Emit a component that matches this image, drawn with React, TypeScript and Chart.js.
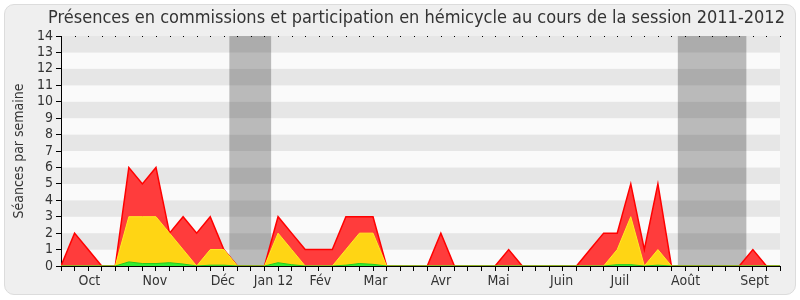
import React, { useEffect, useRef } from "react";
import { Chart, registerables } from "chart.js";

Chart.register(...registerables);

const TITLE = "Présences en commissions et participation en hémicycle au cours de la session 2011-2012";
const Y_TITLE = "Séances par semaine";

// week index 0..53
const weeks = [
  0, 1, 2, 3, 4, 5, 6, 7, 8, 9, 10, 11, 12, 13, 14, 15, 16, 17, 18, 19, 20, 21, 22, 23, 24, 25, 26,
  27, 28, 29, 30, 31, 32, 33, 34, 35, 36, 37, 38, 39, 40, 41, 42, 43, 44, 45, 46, 47, 48, 49, 50, 51,
  52, 53,
];

const presences = [
  0, 2, 1, 0, 0, 6, 5, 6, 2, 3, 2, 3, 1, 0, 0, 0, 3, 2, 1, 1, 1, 3, 3, 3, 0, 0, 0,
  0, 2, 0, 0, 0, 0, 1, 0, 0, 0, 0, 0, 1, 2, 2, 5, 1, 5, 0, 0, 0, 0, 0, 0, 1,
  0, 0,
];

const commissions = [
  0, 0, 0, 0, 0, 3, 3, 3, 2, 1, 0, 1, 1, 0, 0, 0, 2, 1, 0, 0, 0, 1, 2, 2, 0, 0, 0,
  0, 0, 0, 0, 0, 0, 0, 0, 0, 0, 0, 0, 0, 0, 1, 3, 0, 1, 0, 0, 0, 0, 0, 0, 0,
  0, 0,
];

const hemicycle = [
  0, 0, 0, 0, 0, 0.25, 0.15, 0.15, 0.2, 0.12, 0, 0.05, 0.05, 0, 0, 0, 0.2, 0.08, 0, 0, 0, 0.05, 0.15, 0.1, 0, 0, 0,
  0, 0, 0, 0, 0, 0, 0, 0, 0, 0, 0, 0, 0, 0, 0.08, 0.08, 0, 0.05, 0, 0, 0, 0, 0, 0, 0,
  0, 0,
];

const monthLabels = ["Oct", "Nov", "Déc", "Jan 12", "Fév", "Mar", "Avr", "Mai", "Juin", "Juil", "Août", "Sept"];
const monthPositions = [2.09, 6.92, 11.93, 15.66, 19.12, 23.18, 28.0, 32.25, 36.9, 41.2, 46.04, 51.13];

// vacation periods (in week units)
const vacationBands = [
  [12.41, 15.49],
  [45.47, 50.52],
];

const yTicks = [0, 1, 2, 3, 4, 5, 6, 7, 8, 9, 10, 11, 12, 13, 14];

const FONT = "'DejaVu Sans Condensed', 'DejaVu Sans', sans-serif";

const bgPlugin = {
  id: "bgPlugin",
  beforeDraw(chart: any) {
    const { ctx, chartArea, scales } = chart;
    const { left, right, top, bottom } = chartArea;
    const y = scales.y;
    const x = scales.x;
    ctx.save();
    for (let i = 0; i < yTicks.length - 1; i++) {
      const y0 = y.getPixelForValue(yTicks[i]);
      const y1 = y.getPixelForValue(yTicks[i + 1]);
      ctx.fillStyle = i % 2 === 1 ? "#e6e6e6" : "#fafafa";
      ctx.fillRect(left, y1, right - left, y0 - y1);
    }
    ctx.fillStyle = "rgba(40,40,40,0.3)";
    for (const [a, b] of vacationBands) {
      const xa = x.getPixelForValue(a);
      const xb = x.getPixelForValue(b);
      ctx.fillRect(xa, top, xb - xa, bottom - top);
    }
    ctx.fillStyle = "#000";
    for (const w of weeks) {
      ctx.fillRect(Math.round(x.getPixelForValue(w)), Math.round(top), 1, 1);
    }
    // title
    ctx.fillStyle = "#333";
    ctx.font = `18px ${FONT}`;
    ctx.textAlign = "center";
    ctx.textBaseline = "middle";
    ctx.fillText(TITLE, (left + right) / 2 - 4, 18);
    ctx.restore();
  },
};

export default function App() {
  const ref = useRef<HTMLCanvasElement | null>(null);
  useEffect(() => {
    if (!ref.current) return;
    const chart = new Chart(ref.current, {
      type: "line",
      data: {
        datasets: [
          {
            label: "Hémicycle",
            data: weeks.map((w, i) => ({ x: w, y: hemicycle[i] })),
            borderColor: "#22cc22",
            backgroundColor: "#33ee33",
            borderWidth: 1,
            fill: "origin",
            pointRadius: 0,
            tension: 0,
          },
          {
            label: "Commissions",
            data: weeks.map((w, i) => ({ x: w, y: commissions[i] })),
            borderColor: "#ffee22",
            backgroundColor: "#ffd514",
            borderWidth: 1,
            fill: "origin",
            pointRadius: 0,
            tension: 0,
          },
          {
            label: "Présences",
            data: weeks.map((w, i) => ({ x: w, y: presences[i] })),
            borderColor: "#ff0000",
            backgroundColor: "#ff3c3c",
            borderWidth: 1.5,
            fill: "origin",
            pointRadius: 0,
            tension: 0,
          },
        ],
      },
      options: {
        animation: false,
        responsive: false,
        maintainAspectRatio: false,
        layout: { padding: { left: 8, right: 20, top: 36, bottom: 0 } },
        plugins: {
          legend: { display: false },
          tooltip: { enabled: false },
          title: { display: false },
        },
        scales: {
          x: {
            type: "linear",
            position: "bottom",
            min: 0,
            max: 53,
            ticks: { display: false, stepSize: 1 },
            afterBuildTicks: (s: any) => {
              s.ticks = weeks.map((w) => ({ value: w }));
            },
            grid: { drawOnChartArea: false, drawTicks: true, tickLength: 5, color: "#000" },
            border: { display: true, color: "#000" },
            afterFit: (s: any) => {
              s.height = 5;
            },
          },
          xm: {
            type: "linear",
            position: "bottom",
            min: 0,
            max: 53,
            afterBuildTicks: (s: any) => {
              s.ticks = monthPositions.map((p) => ({ value: p }));
            },
            ticks: {
              autoSkip: false,
              maxRotation: 0,
              padding: 2,
              color: "#333",
              font: { family: FONT, size: 14 },
              callback: (_v: any, i: number) => monthLabels[i],
            },
            grid: { display: false, drawTicks: false },
            border: { display: false },
            afterFit: (s: any) => {
              s.height = 29;
            },
          },
          y: {
            type: "linear",
            min: 0,
            max: 14,
            afterBuildTicks: (s: any) => {
              s.ticks = yTicks.map((v) => ({ value: v }));
            },
            ticks: {
              autoSkip: false,
              color: "#333",
              padding: 3,
              font: { family: FONT, size: 14 },
            },
            grid: { drawOnChartArea: false, drawTicks: true, tickLength: 5, color: "#000" },
            border: { display: true, color: "#000" },
            title: {
              display: true,
              text: Y_TITLE,
              color: "#333",
              font: { family: FONT, size: 14 },
              padding: { top: 3, bottom: 2 },
            },
            afterFit: (s: any) => {
              s.width = 53;
            },
          },
        },
      },
      plugins: [bgPlugin],
    });
    return () => chart.destroy();
  }, []);

  return (
    <div style={{ position: "fixed", left: 0, top: 0, width: 800, height: 300, background: "#ffffff" }}>
      <div
        style={{
          position: "absolute",
          left: 4,
          top: 4,
          width: 790,
          height: 289,
          border: "1px solid #dcdcdc",
          borderRadius: 10,
          background: "#efefef",
        }}
      />
      <canvas ref={ref} width={800} height={300} style={{ position: "absolute", left: 0, top: 0, width: 800, height: 300 }} />
    </div>
  );
}
